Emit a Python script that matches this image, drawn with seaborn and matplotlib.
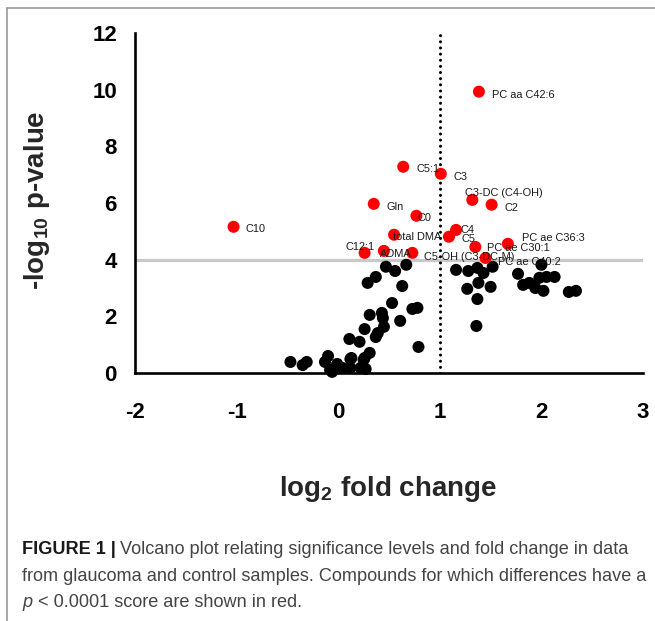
import matplotlib
matplotlib.use("Agg")
import matplotlib.pyplot as plt
from matplotlib.lines import Line2D
import seaborn as sns
import pandas as pd

# ---------------- data ----------------
sig_names = ["PC aa C42:6", "C5:1", "C3", "Gln", "C3-DC (C4-OH)", "C2", "C0", "C10",
             "C4", "C5", "total DMA", "PC ae C30:1", "PC ae C36:3", "PC ae C40:2",
             "C12:1", "ADMA", "C5-OH (C3-DC-M)"]
sig_fc = [1.385, 0.64, 1.01, 0.35, 1.32, 1.51, 0.77, -1.03,
          1.16, 1.09, 0.55, 1.35, 1.67, 1.45,
          0.26, 0.45, 0.73]
sig_p = [9.93, 7.28, 7.03, 5.97, 6.11, 5.94, 5.55, 5.16,
         5.05, 4.81, 4.88, 4.45, 4.56, 4.06,
         4.24, 4.31, 4.24]

ns_fc = [0.47, 0.56, 0.67, 0.37, 0.29, 0.63, 0.53, 0.31, 0.43, 0.44, 0.73, 0.78,
         0.61, 0.45, 0.26, 0.39, 0.37, 0.11, 0.21, 0.79, 0.31, 0.26, 0.13, -0.10,
         -0.13, -0.01, -0.31, -0.35, -0.47, -0.08, -0.06, 0.04, 0.12, 0.22, 0.27,
         0.25, 0.12,
         1.16, 1.28, 1.37, 1.43, 1.52, 1.27, 1.38, 1.50, 1.37, 1.36, 1.77, 1.82,
         1.88, 1.94, 2.02, 2.00, 1.98, 2.05, 2.13, 2.27, 2.34]
ns_p = [3.75, 3.60, 3.82, 3.39, 3.18, 3.07, 2.47, 2.05, 2.12, 1.94, 2.26, 2.30,
        1.84, 1.63, 1.55, 1.41, 1.27, 1.20, 1.10, 0.92, 0.71, 0.53, 0.53, 0.60,
        0.39, 0.32, 0.39, 0.28, 0.39, 0.11, 0.04, 0.18, 0.18, 0.18, 0.14,
        0.46, 0.49,
        3.64, 3.60, 3.71, 3.53, 3.75, 2.97, 3.18, 3.04, 2.61, 1.66, 3.50, 3.11,
        3.18, 3.00, 2.90, 3.82, 3.36, 3.39, 3.39, 2.86, 2.90]

x_ticks = [-2, -1, 0, 1, 2, 3]
y_ticks = [0, 2, 4, 6, 8, 10, 12]
threshold_p = 4
threshold_fc = 1

# label offsets in pixels (dx, dy), one per significant compound
label_offsets = [(13, -3), (13, -2), (13, -3), (13, -3), (-7, 7), (13, -3), (1, -2),
                 (12, -2), (4, 0), (13, -2), (-1, -2), (12, -1), (14, 6), (12, -4),
                 (-19, 6), (-4, -3), (12, -4)]

# ---------------- style ----------------
sns.set_style("white")
plt.rcParams["font.family"] = ["Liberation Sans", "DejaVu Sans"]
plt.rcParams["axes.unicode_minus"] = False
plt.rcParams["mathtext.fontset"] = "custom"
plt.rcParams["mathtext.rm"] = "Liberation Sans:bold"
plt.rcParams["mathtext.bf"] = "Liberation Sans:bold"

W, H = 655, 621
fig = plt.figure(figsize=(W / 100, H / 100), dpi=100)
fig.patch.set_facecolor("white")

ax_left, ax_right, ax_bottom, ax_top = 135, 643, 373, 33
ax = fig.add_axes([ax_left / W, 1 - ax_bottom / H,
                   (ax_right - ax_left) / W, (ax_bottom - ax_top) / H])

df = pd.concat([
    pd.DataFrame({"fc": ns_fc, "p": ns_p, "group": "ns"}),
    pd.DataFrame({"fc": sig_fc, "p": sig_p, "group": "sig"}),
], ignore_index=True)

ax.axhline(threshold_p, color="#c9c9c9", lw=2.3, zorder=0)
ax.axvline(threshold_fc, color="black", lw=2.2, ls=(0, (0.01, 2.0)),
           dash_capstyle="round", zorder=1)

sns.scatterplot(data=df, x="fc", y="p", hue="group",
                palette={"ns": "black", "sig": "#ff0000"},
                s=75, linewidth=0, legend=False, ax=ax, zorder=3, clip_on=False)

for name, xv, yv, (dx, dy) in zip(sig_names, sig_fc, sig_p, label_offsets):
    ax.annotate(name, xy=(xv, yv), xytext=(dx, dy), textcoords="offset pixels",
                ha="left", va="center", fontsize=7.9, color="#1a1a1a", zorder=4)

ax.set_xlim(-2, 3)
ax.set_ylim(0, 12)
ax.set_xticks(x_ticks)
ax.set_yticks(y_ticks)
ax.set_xticklabels([str(t) for t in x_ticks])
ax.set_yticklabels([str(t) for t in y_ticks])
ax.set_xlabel("")
ax.set_ylabel("")
sns.despine(ax=ax)
for s in ["left", "bottom"]:
    ax.spines[s].set_linewidth(1.9)
    ax.spines[s].set_color("black")
    ax.spines[s].set_capstyle("projecting")
ax.tick_params(axis="x", direction="out", length=10, width=1.9, pad=11,
               labelsize=16, colors="black")
ax.tick_params(axis="y", direction="out", length=9.5, width=1.9, pad=3.5,
               labelsize=16, colors="black")
for lab in ax.get_xticklabels() + ax.get_yticklabels():
    lab.set_fontweight("bold")

fig.text(37 / W, 1 - 200 / H, r"-log$_{10}$ p-value", rotation=90,
         ha="center", va="center", fontsize=20, fontweight="bold")
fig.text(388 / W, 1 - 496 / H, r"log$_{2}$ fold change",
         ha="center", va="baseline", fontsize=20, fontweight="bold")

# frame lines
fig.add_artist(Line2D([7 / W, 7 / W], [0, 1 - 8 / H], transform=fig.transFigure,
                      color="#9a9a9a", lw=1.2))
fig.add_artist(Line2D([7 / W, 1], [1 - 8 / H, 1 - 8 / H], transform=fig.transFigure,
                      color="#9a9a9a", lw=1.2))

# caption
cap_col = "#444444"
cap_fs = 12.0
cap_x = 22
line_y = [554, 581, 607]
renderer = fig.canvas.get_renderer()

# fit font size to the width of the second line
probe = fig.text(0, 0, "from glaucoma and control samples. Compounds for which differences have a",
                 fontsize=cap_fs)
wpx = probe.get_window_extent(renderer).width
probe.remove()
cap_fs = cap_fs * (650 - cap_x) / wpx


def put(x_px, y_px, s, **kw):
    kw.setdefault("color", cap_col)
    t = fig.text(x_px / W, 1 - y_px / H, s, ha="left", va="baseline",
                 fontsize=cap_fs, **kw)
    return t.get_window_extent(renderer).x1


x1 = put(cap_x, line_y[0], "FIGURE 1 |", fontweight="bold", color="#1a1a1a")
put(x1 + 4, line_y[0], "Volcano plot relating significance levels and fold change in data")
put(cap_x, line_y[1], "from glaucoma and control samples. Compounds for which differences have a")
x1 = put(cap_x, line_y[2], "p", style="italic")
put(x1 + 6, line_y[2], "< 0.0001 score are shown in red.")

fig.savefig("out.png", dpi=100)
